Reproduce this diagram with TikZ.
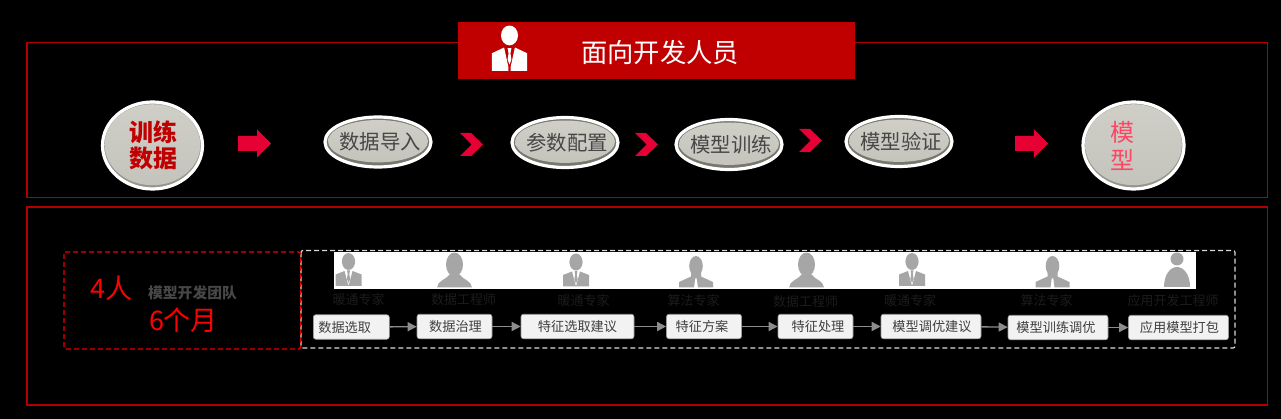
\documentclass[tikz,border=0pt]{standalone}
\usepackage{fontspec}
\setmainfont{Noto Sans CJK SC}
\usetikzlibrary{arrows.meta,shapes.geometric}
\definecolor{frameRed}{HTML}{B00000}
\definecolor{headRed}{HTML}{C00000}
\definecolor{arrRed}{HTML}{E60033}
\definecolor{pearl}{HTML}{C4C4BC}
\definecolor{pearlTop}{HTML}{CFCFC8}
\definecolor{rim}{HTML}{77776F}
\definecolor{iconGrey}{HTML}{A6A6A6}
\definecolor{darkLabel}{HTML}{1C1C1C}
\definecolor{boxFill}{HTML}{F2F2F2}
\definecolor{boxLine}{HTML}{9A9A9A}
\definecolor{arrGrey}{HTML}{8C8C8C}
\newcommand{\ovaltext}[1]{\makebox[0pt]{\hspace{4pt}\raisebox{-3pt}{#1}}}
\tikzset{
  frame/.style={draw=frameRed,line width=1.4pt},
  pearlnode/.style n args={4}{ellipse,draw=white,line width=3.2pt,inner sep=0pt,align=center,
    minimum width=#1pt,minimum height=#2pt,
    path picture={
      \fill[#3] (path picture bounding box.north west) rectangle (path picture bounding box.south east);
      \shade[top color=pearlTop,bottom color=pearl] ([yshift=0.8pt]path picture bounding box.center) ellipse [x radius=#1pt/2-#4pt,y radius=#2pt/2-#4pt-0.8pt];
    }},
  stepoval/.style={pearlnode={106}{50}{rim}{3},font=\fontsize{20.4}{24}\selectfont,text=black!72},
  bigoval/.style={pearlnode={#1}{87}{rim!60!pearl}{2.2},font=\fontsize{24}{26.5}\selectfont},
  chev/.style={fill=arrRed},
  rolelabel/.style={text=darkLabel,font=\fontsize{13}{15}\selectfont,inner sep=0pt},
  taskbox/.style={draw=boxLine,fill=boxFill,rounded corners=2.5pt,line width=0.6pt,inner sep=0pt,
    text=black!75,font=\fontsize{13.2}{15}\selectfont,minimum height=24.5pt},
  flow/.style={draw=arrGrey,line width=1.4pt,-{Triangle[length=9pt,width=9pt]}},
  blockarrow/.pic={
    \fill[arrRed] (-16.5,-7.5) -- (2.5,-7.5) -- (2.5,-14) -- (16.5,0) -- (2.5,14) -- (2.5,7.5) -- (-16.5,7.5) -- cycle;
  },
  suitman/.pic={
    \fill[pic actions] (0,-25.5) ellipse [x radius=6.6,y radius=8.5];
    \fill[pic actions] (-13,-1) -- (-13,-12.5) -- (-4,-16) -- (-0.3,-2) -- (0.3,-2) -- (4,-16) -- (13,-12.5) -- (13,-1) -- cycle;
    \fill[pic actions] (-1.5,-16.5) -- (1.5,-16.5) -- (0.8,-13) -- (1.6,-8) -- (0,-4) -- (-1.6,-8) -- (-0.8,-13) -- cycle;
  },
  bustman/.pic={
    \fill[pic actions] (0,-23) ellipse [x radius=8.5,y radius=12];
    \fill[pic actions] (-17.5,0) .. controls (-17,-7) and (-8,-8) .. (-5,-13) -- (5,-13) .. controls (8,-8) and (17,-7) .. (17.5,0) -- cycle;
  },
  tieman/.pic={
    \fill[pic actions] (0,-21.5) ellipse [x radius=6.8,y radius=10];
    \fill[pic actions] (-17,0) -- (-17,-5.5) -- (-5,-11) -- (-5,-15) -- (5,-15) -- (5,-11) -- (17,-5.5) -- (17,0) -- (2,0) -- (0.8,-9) -- (-0.8,-9) -- (-2,0) -- cycle;
  },
  domeman/.pic={
    \fill[pic actions] (0,-28) circle [radius=6.5];
    \fill[pic actions] (-13,0) .. controls (-13,-12) and (-7,-20) .. (0,-20) .. controls (7,-20) and (13,-12) .. (13,0) -- cycle;
  }
}
\begin{document}
\begin{tikzpicture}[x=1pt,y=-1pt]
\useasboundingbox (0,0) rectangle (1281,419);
\fill[black] (0,0) rectangle (1281,419);
% frames
\draw[frame] (27,42.5) rectangle (1267.5,197.5);
\draw[frame] (27,207) rectangle (1267.5,405);
% header
\node[fill=headRed,minimum width=397pt,minimum height=57pt,inner sep=0pt,anchor=north west] (header) at (458,22) {};
\node[text=white,inner sep=0pt,font=\fontsize{26.3}{30}\selectfont] (title) at (660,53) {面向开发人员};
\begin{scope}[shift={(509.5,71)},xscale=1.35,yscale=1.27]
\fill[white] (0,-28) ellipse [x radius=6.3,y radius=7.8];
\fill[white] (-13,0) -- (-13,-14) -- (-4,-18.5) -- (-0.8,-3) -- (-0.8,0) -- cycle;
\fill[white] (13,0) -- (13,-14) -- (4,-18.5) -- (0.8,-3) -- (0.8,0) -- cycle;
\fill[white] (-1.4,-18) -- (1.4,-18) -- (0.7,-14) -- (1.4,-9) -- (0,-5) -- (-1.4,-9) -- (-0.7,-14) -- cycle;
\end{scope}
% top row
\node[bigoval=100,text=headRed,font=\bfseries\fontsize{24}{26.5}\selectfont] (train) at (152.5,145.5) {\hspace{2pt}训练\\\hspace{2pt}数据};
\node[stepoval] (s1) at (378,142) {\ovaltext{数据导入}};
\node[stepoval] (s2) at (565,142.5) {\ovaltext{参数配置}};
\node[stepoval] (s3) at (729,144.5) {\ovaltext{模型训练}};
\node[stepoval] (s4) at (899,141.5) {\ovaltext{模型验证}};
\node[bigoval=101,text={rgb,255:red,255;green,70;blue,100}] (model) at (1133.5,145.5) {\makebox[0pt]{\hspace{-23pt}模}\\[1.5pt]\makebox[0pt]{\hspace{-23pt}型}};
\path (254.5,143.5) pic {blockarrow};
\path (1031.5,143.5) pic {blockarrow};
\fill[chev] (460,133) -- (471,133) -- (483,144.5) -- (471,156) -- (460,156) -- (471.5,144.5) -- cycle;
\fill[chev] (635,133) -- (646,133) -- (658,144.5) -- (646,156) -- (635,156) -- (646.5,144.5) -- cycle;
\fill[chev] (799,129) -- (810,129) -- (822,140.5) -- (810,152) -- (799,152) -- (810.5,140.5) -- cycle;
% lower panel
\draw[white!85!black,dash pattern=on 5pt off 3pt,line width=1.2pt,rounded corners=2pt] (301,250.5) rectangle (1235,348);
\draw[red!92!black,dash pattern=on 5pt off 3pt,line width=1.3pt,rounded corners=2pt] (64,252) rectangle (300.5,349);
\fill[white] (334,252) rectangle (1196,289);
\node[text=red,inner sep=0pt,font=\fontsize{27}{30}\selectfont] (n4) at (111.5,288) {4人};
\node[text=black!72,inner sep=0pt,font=\bfseries\fontsize{14.8}{17}\selectfont] (team) at (192.5,293) {模型开发团队};
\node[text=red,inner sep=0pt,font=\fontsize{27}{30}\selectfont] (n6) at (183.5,320) {6个月};
% icons
\path[fill=iconGrey]
  (348.5,287) pic {suitman}
  (454.5,287.5) pic {bustman}
  (576,287.5) pic {suitman}
  (696,287.5) pic {tieman}
  (806.5,287.5) pic {bustman}
  (912,287) pic {suitman}
  (1052.5,287.5) pic {tieman}
  (1177,287) pic {domeman};
% role labels
\node[rolelabel] (r1) at (358.5,300) {暖通专家};
\node[rolelabel] (r2) at (463.5,300) {数据工程师};
\node[rolelabel] (r3) at (583.5,301) {暖通专家};
\node[rolelabel] (r4) at (693.5,301) {算法专家};
\node[rolelabel] (r5) at (805.5,301.5) {数据工程师};
\node[rolelabel] (r6) at (910,301) {暖通专家};
\node[rolelabel] (r7) at (1046.5,301) {算法专家};
\node[rolelabel] (r8) at (1173,301) {应用开发工程师};
% task boxes
\node[taskbox,minimum width=76pt,anchor=west,text width=66pt,align=left] (b1) at (313,327) {数据选取};
\node[taskbox,minimum width=75pt] (b2) at (454.5,326.5) {\hspace{2pt}数据治理};
\node[taskbox,minimum width=113pt] (b3) at (577.5,326.5) {特征选取建议};
\node[taskbox,minimum width=75pt] (b4) at (704,326.5) {\hspace{-4pt}特征方案};
\node[taskbox,minimum width=75pt] (b5) at (815.5,326.5) {\hspace{5pt}特征处理};
\node[taskbox,minimum width=100pt] (b6) at (931,326.5) {\hspace{2pt}模型调优建议};
\node[taskbox,minimum width=100pt] (b7) at (1058,327.5) {\hspace{-4pt}模型训练调优};
\node[taskbox,minimum width=100pt] (b8) at (1178.5,327.5) {\hspace{2pt}应用模型打包};
\foreach \p/\q in {b1/b2,b2/b3,b3/b4,b4/b5,b5/b6,b6/b7,b7/b8}
  \draw[flow] (\p) -- (\q);
\end{tikzpicture}
\end{document}
